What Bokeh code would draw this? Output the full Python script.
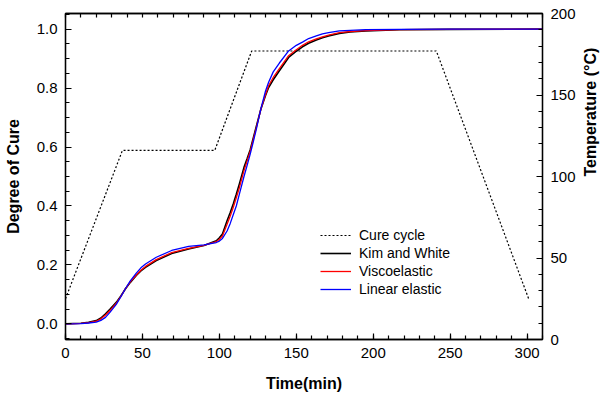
import math
from bokeh.plotting import figure
from bokeh.models import (LinearAxis, Range1d, Legend, LegendItem, PrintfTickFormatter,
                          SingleIntervalTicker, CustomJSTickFormatter)
from bokeh.embed import file_html
from bokeh.resources import INLINE

# ---------------- data ----------------
time_min = [0, 10, 15, 20, 23, 26, 29, 33, 36, 39, 42, 46, 49, 52, 59, 69, 80, 90, 98, 100,
            102, 105, 107, 109, 111, 113, 116, 118, 120, 122, 124, 127, 130, 132, 135, 139,
            145, 150, 154, 158, 163, 167, 171, 178, 185, 195, 217, 250, 310]
kim_white = [0, 0.002, 0.005, 0.011, 0.02, 0.034, 0.05, 0.073, 0.095, 0.119, 0.14, 0.164,
             0.18, 0.192, 0.215, 0.239, 0.254, 0.266, 0.282, 0.292, 0.305, 0.35, 0.377,
             0.407, 0.44, 0.475, 0.531, 0.56, 0.59, 0.63, 0.67, 0.729, 0.775, 0.802, 0.828,
             0.859, 0.904, 0.925, 0.94, 0.952, 0.963, 0.971, 0.977, 0.985, 0.99, 0.994,
             0.998, 0.999, 1.0]
viscoelastic = [0, 0.002, 0.004, 0.009, 0.017, 0.03, 0.046, 0.07, 0.093, 0.12, 0.142, 0.166,
                0.182, 0.195, 0.218, 0.242, 0.256, 0.266, 0.279, 0.287, 0.298, 0.338, 0.365,
                0.395, 0.428, 0.462, 0.52, 0.552, 0.585, 0.625, 0.665, 0.729, 0.778, 0.808,
                0.836, 0.866, 0.91, 0.93, 0.945, 0.957, 0.967, 0.974, 0.98, 0.988, 0.992,
                0.995, 0.998, 0.999, 1.0]
linear_elastic = [0, 0.001, 0.003, 0.006, 0.012, 0.022, 0.04, 0.066, 0.092, 0.12, 0.145,
                  0.172, 0.19, 0.203, 0.226, 0.249, 0.263, 0.268, 0.276, 0.281, 0.29, 0.315,
                  0.34, 0.37, 0.4, 0.44, 0.5, 0.537, 0.575, 0.617, 0.66, 0.73, 0.79, 0.82,
                  0.855, 0.885, 0.926, 0.945, 0.956, 0.968, 0.977, 0.984, 0.988, 0.994,
                  0.996, 0.998, 0.999, 1.0, 1.0]

cycle_time = [0, 37, 97, 121, 241, 301]
cycle_temp = [25, 116, 116, 177, 177, 25]

FONT = "Liberation Sans"

p = figure(width=610, height=396, output_backend="svg", toolbar_location=None,
           x_range=Range1d(0, 310), y_range=Range1d(-0.053, 1.053),
           min_border_left=65, min_border_right=66, min_border_top=13, min_border_bottom=57)
p.extra_y_ranges = {"temp": Range1d(0, 200)}
p.grid.visible = False
p.outline_line_color = "black"
p.outline_line_width = 1.3
p.background_fill_color = "white"
p.border_fill_color = "white"

def style_axis(ax, major_in=6, minor_in=4):
    ax.axis_line_color = "black"
    ax.axis_line_width = 1.3
    ax.major_tick_in = major_in
    ax.major_tick_out = 0
    ax.minor_tick_in = minor_in
    ax.minor_tick_out = 0
    ax.major_tick_line_color = "black"
    ax.minor_tick_line_color = "black"
    ax.major_tick_line_width = 1.2
    ax.minor_tick_line_width = 1.2
    ax.major_label_text_font = FONT
    ax.major_label_text_font_size = "15px"
    ax.major_label_text_color = "black"
    ax.major_label_standoff = 8
    ax.axis_label_text_font = FONT
    ax.axis_label_text_font_size = "16px"
    ax.axis_label_text_font_style = "bold"
    ax.axis_label_text_color = "black"

# bottom axis
xa = p.xaxis[0]
xa.ticker = SingleIntervalTicker(interval=50, num_minor_ticks=5)
xa.axis_label = "Time(min)"
style_axis(xa)
xa.axis_label_standoff = 14

# left axis
ya = p.yaxis[0]
ya.ticker = SingleIntervalTicker(interval=0.2, num_minor_ticks=4)
ya.formatter = PrintfTickFormatter(format="%.1f")
ya.axis_label = "Degree of Cure"
style_axis(ya)
ya.axis_label_standoff = 12

# right axis
ra = LinearAxis(y_range_name="temp", axis_label="Temperature (°C)",
                ticker=SingleIntervalTicker(interval=50, num_minor_ticks=5))
style_axis(ra)
ra.axis_label_standoff = 12
if "axis_label_orientation" in ra.properties():
    ra.axis_label_orientation = math.pi / 2
p.add_layout(ra, "right")

# top axis (ticks only, no labels)
ta = LinearAxis(ticker=SingleIntervalTicker(interval=10, num_minor_ticks=0),
                formatter=CustomJSTickFormatter(code="return '';"))
style_axis(ta, major_in=4, minor_in=0)
ta.major_label_text_font_size = "1px"
ta.major_label_standoff = 0
p.add_layout(ta, "above")

# ---------------- glyphs ----------------
r_cycle = p.line(cycle_time, cycle_temp, y_range_name="temp", line_color="black",
                 line_width=1.2, line_dash="2 2")
r_kim = p.line(time_min, kim_white, line_color="black", line_width=1.6)
r_visc = p.line(time_min, viscoelastic, line_color="#ff0000", line_width=1.3)
r_lin = p.line(time_min, linear_elastic, line_color="#0000ff", line_width=1.3)

legend = Legend(items=[
    LegendItem(label="Cure cycle", renderers=[r_cycle]),
    LegendItem(label="Kim and White", renderers=[r_kim]),
    LegendItem(label="Viscoelastic", renderers=[r_visc]),
    LegendItem(label="Linear elastic", renderers=[r_lin]),
], location=(255, 41))
legend.padding = 0
legend.margin = 0
legend.spacing = 0
legend.border_line_alpha = 0
legend.background_fill_alpha = 0
legend.glyph_width = 31
legend.glyph_height = 18
legend.label_height = 18
legend.label_standoff = 8
legend.label_text_font = FONT
legend.label_text_font_size = "14px"
legend.label_text_color = "black"
p.add_layout(legend, "center")

open("out.html", "w").write(file_html(p, INLINE))
